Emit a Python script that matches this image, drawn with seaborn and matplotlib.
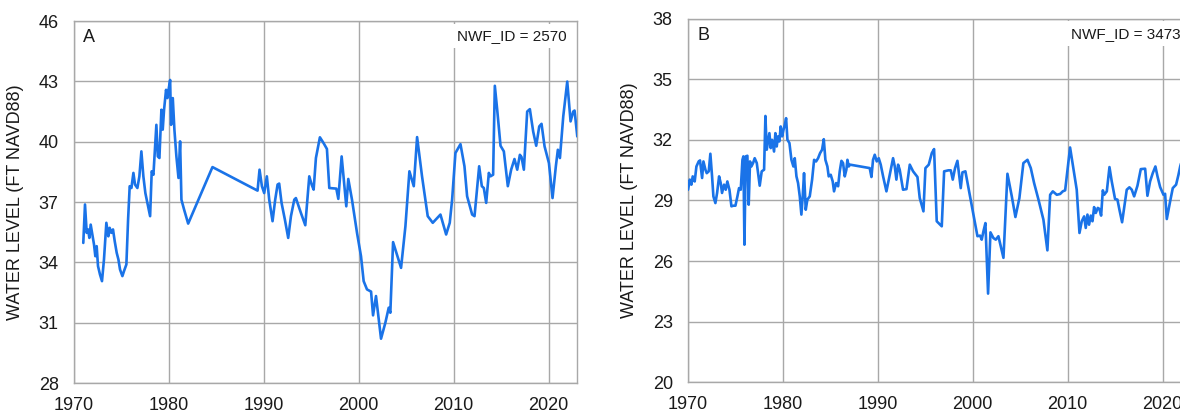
import matplotlib
matplotlib.use("Agg")
import matplotlib.pyplot as plt
from matplotlib.ticker import MultipleLocator, FixedLocator
import numpy as np
import pandas as pd
import seaborn as sns

# Well A (NWF_ID 2570): decimal year and water level (ft NAVD88)
years_a = [1970.98, 1971.16, 1971.34, 1971.48, 1971.62, 1971.76, 1971.93, 1972.11, 1972.25, 1972.39,
           1972.53, 1972.74, 1972.95, 1973.16, 1973.41, 1973.62, 1973.76, 1973.94, 1974.11, 1974.29,
           1974.50, 1974.68, 1974.85, 1975.10, 1975.27, 1975.52, 1975.70, 1975.87, 1976.05, 1976.26,
           1976.43, 1976.68, 1976.89, 1977.10, 1977.31, 1977.52, 1977.81, 1978.02, 1978.19, 1978.37,
           1978.54, 1978.68, 1978.83, 1979.00, 1979.21, 1979.35, 1979.49, 1979.70, 1979.85, 1979.99,
           1980.13, 1980.23, 1980.41, 1980.58, 1980.79, 1981.01, 1981.18, 1981.32, 1981.60, 1982.03,
           1984.59, 1989.34, 1989.55, 1989.80, 1990.04, 1990.32, 1990.57, 1990.92, 1991.20, 1991.45,
           1991.62, 1991.87, 1992.22, 1992.57, 1992.86, 1993.21, 1993.38, 1993.91, 1994.37, 1994.79,
           1995.04, 1995.25, 1995.49, 1995.91, 1996.30, 1996.65, 1996.90, 1997.64, 1997.85, 1998.20,
           1998.48, 1998.69, 1998.90, 1999.29, 1999.82, 2000.24, 2000.52, 2000.87, 2001.30, 2001.51,
           2001.82, 2002.35, 2002.81, 2003.16, 2003.33, 2003.62, 2004.46, 2004.92, 2005.34, 2005.80,
           2006.15, 2006.67, 2007.27, 2007.80, 2008.61, 2009.21, 2009.59, 2009.84, 2010.19, 2010.72,
           2011.14, 2011.42, 2011.95, 2012.20, 2012.69, 2012.97, 2013.18, 2013.43, 2013.71, 2013.88,
           2014.16, 2014.34, 2014.59, 2014.94, 2015.29, 2015.71, 2016.06, 2016.41, 2016.70, 2016.98,
           2017.15, 2017.40, 2017.75, 2018.03, 2018.38, 2018.70, 2019.02, 2019.26, 2019.58, 2020.04,
           2020.42, 2020.77, 2020.98, 2021.20, 2021.55, 2021.97, 2022.32, 2022.60, 2022.74, 2023.03]
level_a = [34.97, 36.88, 35.47, 35.64, 35.22, 35.88, 35.39, 34.89, 34.31, 34.81,
           33.82, 33.40, 33.07, 34.15, 35.97, 35.30, 35.72, 35.47, 35.64, 35.06,
           34.48, 34.15, 33.65, 33.32, 33.57, 33.90, 36.13, 37.79, 37.70, 38.45,
           37.87, 37.70, 38.28, 39.52, 38.28, 37.45, 36.79, 36.30, 38.53, 38.36,
           39.77, 40.84, 39.27, 39.19, 41.59, 40.60, 41.59, 42.58, 42.17, 42.66,
           43.07, 40.84, 42.17, 40.60, 39.27, 38.20, 40.02, 37.12, 36.63, 35.93,
           38.74, 37.57, 38.61, 37.79, 37.45, 38.28, 37.12, 36.05, 37.12, 37.87,
           37.92, 36.96, 36.13, 35.22, 36.30, 37.12, 37.20, 36.46, 35.85, 38.28,
           37.87, 37.62, 39.19, 40.22, 39.93, 39.64, 37.70, 37.67, 37.16, 39.27,
           37.87, 36.79, 38.15, 37.12, 35.47, 34.31, 33.07, 32.66, 32.55, 31.37,
           32.33, 30.21, 31.01, 31.75, 31.50, 35.01, 33.73, 35.80, 38.53, 37.79,
           40.23, 38.28, 36.30, 35.97, 36.38, 35.39, 35.97, 37.12, 39.44, 39.88,
           38.78, 37.29, 36.38, 36.30, 38.78, 37.79, 37.70, 36.96, 38.45, 38.28,
           38.36, 42.78, 41.59, 39.80, 39.52, 37.79, 38.61, 39.14, 38.61, 39.35,
           39.24, 38.61, 41.50, 41.62, 40.51, 39.80, 40.76, 40.89, 39.77, 38.94,
           37.20, 38.78, 39.60, 39.19, 41.26, 42.99, 41.01, 41.50, 41.55, 40.26]

# Well B (NWF_ID 3473)
years_b = [1970.00, 1970.18, 1970.35, 1970.49, 1970.70, 1970.88, 1971.12, 1971.26, 1971.48, 1971.62,
           1971.83, 1971.97, 1972.18, 1972.35, 1972.53, 1972.67, 1972.88, 1973.06, 1973.27, 1973.44,
           1973.58, 1973.79, 1973.97, 1974.14, 1974.36, 1974.57, 1974.78, 1974.99, 1975.20, 1975.37,
           1975.55, 1975.73, 1975.83, 1975.94, 1976.08, 1976.25, 1976.39, 1976.53, 1976.67, 1976.85,
           1977.02, 1977.24, 1977.55, 1977.76, 1978.01, 1978.15, 1978.29, 1978.43, 1978.57, 1978.71,
           1978.85, 1979.06, 1979.20, 1979.34, 1979.48, 1979.62, 1979.76, 1979.91, 1980.05, 1980.19,
           1980.33, 1980.47, 1980.68, 1980.89, 1981.10, 1981.24, 1981.42, 1981.59, 1981.77, 1981.94,
           1982.08, 1982.22, 1982.40, 1982.57, 1982.82, 1983.07, 1983.28, 1983.49, 1983.70, 1983.91,
           1984.12, 1984.30, 1984.47, 1984.68, 1984.82, 1985.03, 1985.24, 1985.38, 1985.60, 1985.81,
           1985.98, 1986.16, 1986.33, 1986.51, 1986.68, 1986.79, 1986.93, 1987.07, 1989.14, 1989.32,
           1989.49, 1989.67, 1989.88, 1990.09, 1990.30, 1990.55, 1990.90, 1991.25, 1991.60, 1991.78,
           1991.95, 1992.13, 1992.30, 1992.65, 1993.01, 1993.36, 1993.71, 1994.17, 1994.41, 1994.80,
           1995.01, 1995.36, 1995.68, 1995.92, 1996.20, 1996.73, 1996.98, 1997.43, 1997.68, 1997.89,
           1998.13, 1998.38, 1998.73, 1998.91, 1999.22, 1999.64, 2000.07, 2000.49, 2000.77, 2000.94,
           2001.12, 2001.33, 2001.61, 2001.86, 2002.17, 2002.42, 2002.70, 2003.23, 2003.65, 2004.11,
           2004.49, 2004.91, 2005.33, 2005.76, 2006.11, 2006.46, 2006.92, 2007.44, 2007.86, 2008.15,
           2008.43, 2008.85, 2009.20, 2009.48, 2009.73, 2010.25, 2010.67, 2010.95, 2011.24, 2011.48,
           2011.73, 2011.90, 2012.08, 2012.25, 2012.43, 2012.61, 2012.78, 2012.96, 2013.17, 2013.34,
           2013.52, 2013.70, 2013.84, 2014.12, 2014.40, 2014.64, 2014.99, 2015.24, 2015.45, 2015.73,
           2016.22, 2016.50, 2016.75, 2017.00, 2017.35, 2017.70, 2018.16, 2018.40, 2018.68, 2018.96,
           2019.24, 2019.46, 2019.74, 2020.09, 2020.26, 2020.44, 2020.79, 2021.07, 2021.42, 2021.67,
           2021.85, 2022.10]
level_b = [29.53, 30.03, 29.78, 30.19, 29.94, 30.68, 30.93, 30.98, 30.11, 30.93,
           30.52, 30.35, 30.44, 31.31, 30.19, 29.20, 28.87, 29.37, 30.19, 29.86,
           29.37, 29.78, 29.53, 29.94, 29.53, 28.71, 28.74, 28.74, 29.20, 29.61,
           29.53, 31.01, 31.18, 26.81, 31.18, 31.21, 28.79, 30.93, 30.68, 30.85,
           31.09, 30.85, 29.73, 30.44, 30.52, 33.18, 31.51, 31.92, 32.33, 31.59,
           32.00, 31.42, 32.33, 31.67, 32.17, 31.92, 32.66, 32.17, 32.49, 32.74,
           33.07, 32.00, 31.84, 31.01, 30.68, 31.09, 30.19, 29.86, 29.20, 28.30,
           29.20, 30.35, 28.54, 29.04, 29.20, 30.03, 31.01, 30.93, 31.09, 31.34,
           31.51, 32.03, 31.01, 30.68, 30.19, 30.27, 29.94, 29.45, 29.86, 29.70,
           30.44, 30.96, 30.85, 30.19, 30.52, 31.01, 30.68, 30.77, 30.60, 30.16,
           31.01, 31.26, 30.93, 31.09, 30.77, 30.19, 29.45, 30.27, 31.09, 30.68,
           30.03, 30.77, 30.52, 29.53, 29.56, 30.77, 30.44, 30.16, 29.12, 28.46,
           30.60, 30.77, 31.34, 31.54, 27.97, 27.72, 30.44, 30.49, 30.49, 30.03,
           30.60, 30.96, 29.61, 30.39, 30.44, 29.37, 28.30, 27.23, 27.26, 27.06,
           27.47, 27.88, 24.39, 27.42, 27.14, 27.06, 27.23, 26.16, 30.32, 29.20,
           28.18, 29.12, 30.85, 31.01, 30.60, 29.86, 29.04, 28.05, 26.53, 29.28,
           29.45, 29.28, 29.32, 29.45, 29.50, 31.62, 30.35, 29.53, 27.39, 27.97,
           28.21, 27.64, 28.30, 27.80, 28.25, 27.97, 28.67, 28.38, 28.63, 28.58,
           28.25, 29.50, 29.28, 29.45, 30.65, 29.94, 29.07, 29.04, 28.54, 27.92,
           29.53, 29.65, 29.53, 29.20, 29.73, 30.55, 30.57, 29.23, 29.94, 30.35,
           30.68, 30.19, 29.66, 29.28, 29.33, 28.08, 28.95, 29.61, 29.78, 30.27,
           30.68, 31.10]

panel_labels = ["A", "B"]
well_ids = ["NWF_ID = 2570", "NWF_ID = 3473"]
y_ranges = [(28, 46), (20, 38)]
x_range = (1970, 2023)
y_label = "WATER LEVEL (FT NAVD88)"

LINE_BLUE = "#1a73e8"
GRID_GRAY = "#a8a8a8"
TEXT = "#1a1a1a"

sns.set_style("white")
plt.rcParams["font.family"] = ["Liberation Sans", "DejaVu Sans"]

fig = plt.figure(figsize=(11.8, 4.12), dpi=100)
ax_a = fig.add_axes([0.0627, 0.070, 0.4263, 0.879])
ax_b = fig.add_axes([0.5831, 0.072, 0.4263, 0.883])

frames = [pd.DataFrame({"year": years_a, "level": level_a}),
          pd.DataFrame({"year": years_b, "level": level_b})]

for ax, df, lab, wid, yr in zip([ax_a, ax_b], frames, panel_labels, well_ids, y_ranges):
    sns.lineplot(data=df, x="year", y="level", ax=ax, color=LINE_BLUE,
                 linewidth=1.9, estimator=None, sort=False, zorder=3)
    ax.set_xlim(*x_range)
    ax.set_ylim(*yr)
    ax.xaxis.set_major_locator(MultipleLocator(10))
    ax.xaxis.set_minor_locator(MultipleLocator(2))
    ax.yaxis.set_major_locator(FixedLocator(np.arange(yr[0], yr[1] + 1, 3)))
    ax.yaxis.set_minor_locator(FixedLocator(np.arange(yr[0], yr[1] + 1, 1)))
    ax.grid(True, which="major", color=GRID_GRAY, linewidth=1.0, zorder=0)
    ax.set_axisbelow(True)
    ax.tick_params(which="both", direction="in", color=GRID_GRAY, labelsize=13,
                   labelcolor=TEXT)
    ax.tick_params(axis="y", which="major", length=0, pad=11)
    ax.tick_params(axis="x", which="major", length=0, pad=10)
    ax.tick_params(which="minor", length=4, width=0.8)
    for s in ax.spines.values():
        s.set_color(GRID_GRAY)
        s.set_linewidth(1.0)
        s.set_visible(True)
    ax.set_xlabel("")
    ax.set_ylabel(y_label, fontsize=13, color=TEXT)
    ax.yaxis.set_label_coords(-0.100, 0.5)
    ax.text(0.018, 0.978, lab, transform=ax.transAxes, ha="left", va="top",
            fontsize=13, color=TEXT, zorder=5)
    ax.text(0.979, 0.978, wid, transform=ax.transAxes, ha="right", va="top",
            fontsize=11, color=TEXT, zorder=5,
            bbox=dict(boxstyle="square,pad=0.35", facecolor="white", edgecolor="none"))

fig.savefig("out.png", dpi=100)
